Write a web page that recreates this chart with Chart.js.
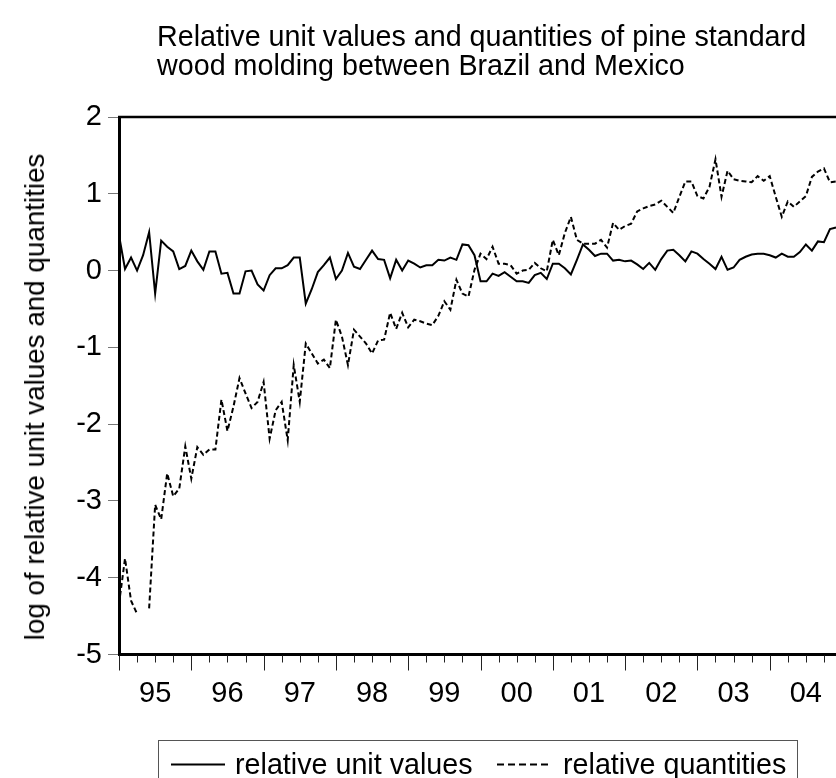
<!DOCTYPE html>
<html><head><meta charset="utf-8">
<script src="https://cdn.jsdelivr.net/npm/chart.js@4"></script>
<style>
html,body{margin:0;padding:0;overflow:hidden;background:#fff;width:836px;height:778px;}
#wrap{position:absolute;left:0;top:0;width:860px;height:778px;}
.t{position:absolute;font-family:"Liberation Sans",Arial,sans-serif;color:#000;white-space:nowrap;}
#legend{position:absolute;left:158px;top:740px;width:640px;height:60px;border:1px solid #555;box-sizing:border-box;}
</style></head><body>
<div id="wrap"><canvas id="c" width="860" height="778"></canvas></div>
<div class="t" id="title" style="left:157px;top:22px;font-size:28.7px;line-height:29px;"></div>
<div class="t" id="ylab" style="left:35px;top:397px;font-size:27.8px;line-height:30px;transform:translate(-50%,-50%) rotate(-90deg);"></div>
<div id="legend"></div>
<script>
const titleLines = ['Relative unit values and quantities of pine standard','wood molding between Brazil and Mexico'];
const yAxisTitle = 'log of relative unit values and quantities';
const seriesNames = ['relative unit values','relative quantities'];
const yearLabels = ['95','96','97','98','99','00','01','02','03','04'];
const years = [1995,1996,1997,1998,1999,2000,2001,2002,2003,2004];
const monthLabels = [];
years.forEach(y=>{for(let m=1;m<=12;m++) monthLabels.push(y+'M'+String(m).padStart(2,'0'));});

const unitValues = [
 0.46,0.02,0.17,0.00,0.20,0.50,-0.30,0.39,0.31,0.25,
 0.02,0.06,0.26,0.12,0.01,0.25,0.25,-0.04,-0.03,-0.30,
 -0.30,-0.01,0.00,-0.18,-0.26,-0.06,0.03,0.03,0.07,0.17,
 0.17,-0.43,-0.24,-0.02,0.07,0.17,-0.11,0.00,0.23,0.05,
 0.02,0.14,0.26,0.15,0.14,-0.10,0.14,0.00,0.13,0.09,
 0.04,0.07,0.07,0.14,0.13,0.17,0.14,0.34,0.33,0.20,
 -0.14,-0.14,-0.04,-0.07,-0.02,-0.08,-0.14,-0.14,-0.16,-0.06,
 -0.03,-0.11,0.09,0.09,0.03,-0.05,0.14,0.34,0.27,0.19,
 0.22,0.22,0.13,0.14,0.12,0.13,0.08,0.02,0.10,0.01,
 0.15,0.26,0.27,0.20,0.12,0.25,0.22,0.15,0.09,0.02,
 0.18,0.01,0.04,0.14,0.18,0.21,0.22,0.22,0.20,0.17,
 0.22,0.18,0.18,0.24,0.34,0.26,0.38,0.37,0.54,0.56
];
const quantities = [
 -4.34,-3.75,-4.30,-4.47,null,-4.40,-3.05,-3.24,-2.64,-2.94,
 -2.84,-2.29,-2.71,-2.30,-2.40,-2.33,-2.33,-1.68,-2.09,-1.77,
 -1.40,-1.60,-1.79,-1.71,-1.45,-2.19,-1.82,-1.71,-2.21,-1.23,
 -1.71,-0.95,-1.08,-1.21,-1.16,-1.27,-0.64,-0.86,-1.23,-0.77,
 -0.86,-0.95,-1.08,-0.91,-0.90,-0.55,-0.76,-0.55,-0.74,-0.64,
 -0.66,-0.69,-0.71,-0.59,-0.40,-0.51,-0.12,-0.30,-0.34,0.01,
 0.22,0.15,0.31,0.09,0.09,0.07,-0.04,0.00,0.01,0.10,
 0.03,-0.01,0.40,0.20,0.49,0.70,0.40,0.35,0.35,0.35,
 0.40,0.30,0.62,0.53,0.58,0.61,0.77,0.81,0.84,0.86,
 0.91,0.83,0.75,0.96,1.16,1.16,0.97,0.94,1.09,1.45,
 0.96,1.30,1.19,1.17,1.16,1.15,1.23,1.17,1.23,0.96,
 0.70,0.90,0.83,0.90,0.97,1.22,1.29,1.33,1.15,1.16
];

document.getElementById('title').innerHTML = titleLines.join('<br>');
document.getElementById('ylab').textContent = yAxisTitle;
const FONT = '"Liberation Sans", Arial, sans-serif';
document.getElementById('legend').innerHTML =
 '<svg style="position:absolute;left:12px;top:0" width="56" height="50"><line x1="0" y1="23.5" x2="54" y2="23.5" stroke="#000" stroke-width="2"/></svg>'+
 '<div class="t" style="left:76px;top:7px;font-size:28.7px;line-height:32px">'+seriesNames[0]+'</div>'+
 '<svg style="position:absolute;left:338px;top:0" width="58" height="50"><line x1="0" y1="23.5" x2="55" y2="23.5" stroke="#000" stroke-width="2" stroke-dasharray="7,4"/></svg>'+
 '<div class="t" style="left:404px;top:7px;font-size:28.7px;line-height:32px">'+seriesNames[1]+'</div>';

const framePlugin = {
  id:'frame',
  afterDraw(chart){
    const {ctx, chartArea:a, scales:{x}} = chart;
    ctx.save();
    ctx.strokeStyle='#222'; ctx.lineWidth=1;
    for(let i=0;i<monthLabels.length;i+=3){
      const px = Math.round(x.getPixelForValue(i))+0.5;
      const len = (i%12===0)?16:8;
      ctx.beginPath(); ctx.moveTo(px,a.bottom+1); ctx.lineTo(px,a.bottom+len); ctx.stroke();
    }
    ctx.strokeStyle='#000'; ctx.lineWidth=2.5;
    ctx.beginPath(); ctx.moveTo(a.left-1,a.top); ctx.lineTo(a.right+30,a.top); ctx.stroke();
    ctx.restore();
  }
};

new Chart(document.getElementById('c'), {
  type:'line',
  data:{
    labels: monthLabels,
    datasets:[
      {label:seriesNames[0], data:unitValues, borderColor:'#000', borderWidth:2, pointRadius:0, tension:0, spanGaps:false},
      {label:seriesNames[1], data:quantities, borderColor:'#000', borderWidth:2, borderDash:[5,3], pointRadius:0, tension:0, spanGaps:false}
    ]
  },
  options:{
    responsive:false, animation:false, devicePixelRatio:1,
    layout:{padding:{top:117, right:24, left:0, bottom:0}},
    plugins:{legend:{display:false}, title:{display:false}, tooltip:{enabled:false}},
    scales:{
      x:{
        type:'category', offset:false,
        grid:{display:false, drawTicks:false},
        border:{display:true, color:'#000', width:3},
        afterFit(s){ s.height = 778-654.5; },
        afterBuildTicks(s){ s.ticks = yearLabels.map((_,k)=>({value:12*k+6})); },
        ticks:{autoSkip:false, maxRotation:0, padding:22, color:'#000', font:{family:FONT, size:29},
          callback:(v,i)=>yearLabels[i]}
      },
      y:{
        min:-5, max:2,
        afterFit(s){ s.width = 119; },
        grid:{drawOnChartArea:false, drawTicks:true, tickLength:11, tickColor:'#777', tickWidth:1},
        border:{display:true, color:'#000', width:3},
        ticks:{stepSize:1, padding:6, color:'#000', font:{family:FONT, size:29}}
      }
    }
  },
  plugins:[framePlugin]
});
</script>
</body></html>
